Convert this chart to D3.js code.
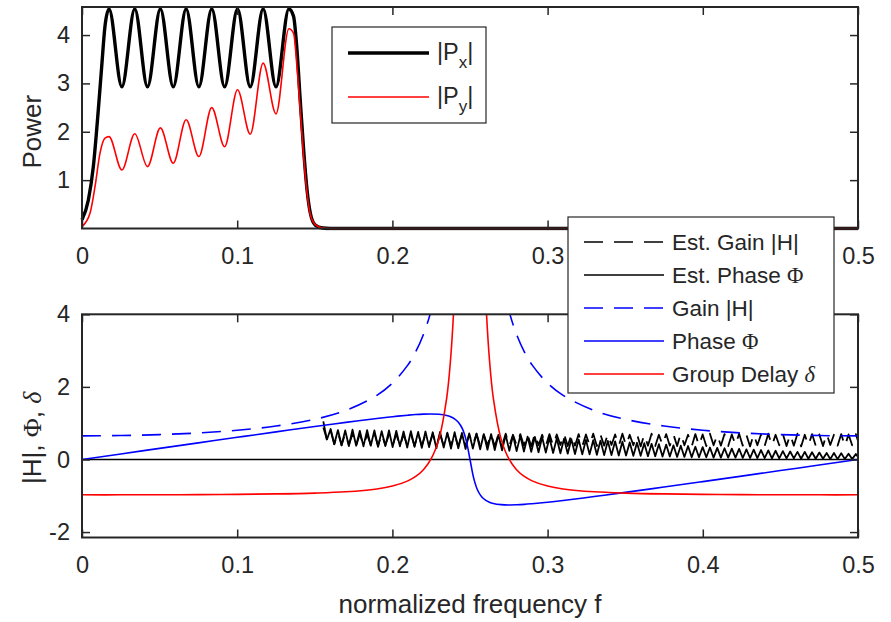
<!DOCTYPE html>
<html><head><meta charset="utf-8">
<script src="https://cdn.jsdelivr.net/npm/d3@7"></script>
<style>
body{margin:0;background:#fff}
text{font-family:"Liberation Sans",Arial,Helvetica,sans-serif;fill:#262626}
.gr{font-family:"Liberation Serif","DejaVu Serif",serif}
</style>
</head><body>
<svg id="c" width="891" height="622"></svg>
<script>
// ---------------- data ----------------
// top panel: power spectra
const pxF = [0, 0.0041, 0.0073, 0.0105, 0.0127, 0.0148, 0.0174, 0.0257, 0.0340, 0.0422, 0.0505, 0.0588, 0.0671, 0.0753, 0.0836, 0.0919, 0.1002, 0.1084, 0.1167, 0.1250, 0.1333, 0.1363, 0.1385, 0.1406, 0.1428, 0.1450, 0.1471, 0.1503, 0.1550, 0.1600, 0.2, 0.3, 0.4, 0.5];
const pxV = [0.18, 0.59, 1.28, 2.45, 3.35, 4.18, 4.54, 2.93, 4.54, 2.93, 4.54, 2.93, 4.54, 2.93, 4.54, 2.93, 4.54, 2.93, 4.54, 2.93, 4.54, 4.39, 3.70, 2.66, 1.63, 0.80, 0.32, 0.07, 0.01, 0, 0, 0, 0, 0];
const pyF = [0, 0.0052, 0.0084, 0.0116, 0.0148, 0.0174, 0.0257, 0.0340, 0.0422, 0.0505, 0.0588, 0.0671, 0.0753, 0.0836, 0.0919, 0.1002, 0.1084, 0.1167, 0.1250, 0.1333, 0.1363, 0.1385, 0.1406, 0.1428, 0.1450, 0.1471, 0.1503, 0.1550, 0.1600, 0.2, 0.3, 0.4, 0.5];
const pyV = [0.04, 0.32, 0.87, 1.56, 1.87, 1.90, 1.21, 1.96, 1.28, 2.08, 1.35, 2.25, 1.49, 2.50, 1.69, 2.87, 1.95, 3.42, 2.37, 4.13, 4.04, 3.35, 2.45, 1.49, 0.73, 0.29, 0.08, 0.01, 0, 0, 0, 0, 0];

// bottom panel: theoretical gain, phase, group delay
const hF = [0, 0.025, 0.05, 0.075, 0.1, 0.125, 0.15, 0.17, 0.19, 0.2, 0.21, 0.215, 0.22, 0.225, 0.23, 0.235, 0.2375, 0.24, 0.2425, 0.245, 0.2475,
            0.25,
            0.2525, 0.255, 0.2575, 0.26, 0.2625, 0.265, 0.27, 0.275, 0.28, 0.285, 0.29, 0.3, 0.31, 0.33, 0.35, 0.375, 0.4, 0.425, 0.45, 0.475, 0.5];
const gainV = [0.651, 0.659, 0.685, 0.731, 0.805, 0.921, 1.107, 1.350, 1.766, 2.101, 2.606, 2.966, 3.445, 4.111, 5.09, 6.68, 7.9, 9.6, 12.1, 16.1, 21.7,
               25.4,
               21.7, 16.1, 12.1, 9.6, 7.9, 6.68, 5.09, 4.111, 3.445, 2.966, 2.606, 2.101, 1.766, 1.350, 1.107, 0.921, 0.805, 0.731, 0.685, 0.659, 0.651];
const phaseV = [0, 0.153, 0.306, 0.458, 0.610, 0.760, 0.907, 1.022, 1.129, 1.178, 1.220, 1.238, 1.249, 1.253, 1.244, 1.212, 1.177, 1.121, 1.026, 0.855, 0.534,
                0,
                -0.534, -0.855, -1.026, -1.121, -1.177, -1.212, -1.244, -1.253, -1.249, -1.238, -1.220, -1.178, -1.129, -1.022, -0.907, -0.760, -0.610, -0.458, -0.306, -0.153, 0];
const delayV = [-0.974, -0.974, -0.972, -0.968, -0.961, -0.949, -0.926, -0.890, -0.812, -0.733, -0.590, -0.468, -0.282, 0.022, 0.568, 1.70, 2.77, 4.57, 7.91, 14.6, 27.4,
                38,
                27.4, 14.6, 7.91, 4.57, 2.77, 1.70, 0.568, 0.022, -0.282, -0.468, -0.590, -0.733, -0.812, -0.890, -0.926, -0.949, -0.961, -0.968, -0.972, -0.974, -0.974];

// bottom panel: estimated gain / phase (sampled from f = 0.1555 in steps of 0.00235)
const estStartF = 0.1555, estStepF = 0.00235;
const estGainV = [1.05,0.52,0.80,0.42,0.74,0.39,0.72,0.40,0.70,0.37,
 0.71,0.38,0.69,0.40,0.72,0.37,0.70,0.39,0.68,0.38,
 0.71,0.36,0.69,0.39,0.70,0.37,0.72,0.38,0.68,0.40,
 0.70,0.37,0.69,0.38,0.71,0.39,0.68,0.36,0.70,0.38,
 0.69,0.40,0.71,0.37,0.68,0.39,0.70,0.36,0.69,0.38,
 0.71,0.37,0.68,0.39,0.70,0.38,0.69,0.36,0.71,0.39,
 0.68,0.37,0.70,0.38,0.69,0.40,0.71,0.37,0.68,0.38,
 0.70,0.36,0.69,0.39,0.71,0.37,0.68,0.38,0.70,0.40,
 0.69,0.37,0.71,0.38,0.68,0.39,0.70,0.36,0.69,0.38,
 0.71,0.37,0.68,0.40,0.70,0.38,0.69,0.37,0.71,0.39,
 0.68,0.36,0.70,0.38,0.69,0.37,0.71,0.39,0.68,0.38,
 0.70,0.37,0.69,0.40,0.71,0.38,0.68,0.36,0.70,0.39,
 0.69,0.37,0.71,0.38,0.68,0.39,0.70,0.37,0.69,0.38,
 0.71,0.36,0.68,0.39,0.70,0.38,0.69,0.37,0.71,0.40,
 0.68,0.38,0.70,0.37,0.69,0.39,0.70,0.38];
const estPhaseV = [0.88,0.55,0.84,0.42,0.81,0.39,0.80,0.37,0.82,0.38,
 0.79,0.36,0.81,0.38,0.80,0.35,0.78,0.37,0.80,0.34,
 0.79,0.36,0.77,0.33,0.78,0.35,0.76,0.32,0.77,0.34,
 0.75,0.31,0.76,0.33,0.74,0.30,0.75,0.31,0.73,0.29,
 0.72,0.30,0.71,0.28,0.70,0.27,0.70,0.26,0.68,0.25,
 0.67,0.24,0.66,0.23,0.65,0.22,0.63,0.21,0.62,0.20,
 0.61,0.19,0.60,0.18,0.58,0.17,0.57,0.16,0.56,0.15,
 0.55,0.14,0.54,0.14,0.53,0.13,0.52,0.12,0.51,0.12,
 0.50,0.11,0.49,0.11,0.47,0.10,0.46,0.10,0.45,0.09,
 0.43,0.09,0.42,0.08,0.41,0.08,0.39,0.07,0.38,0.07,
 0.37,0.06,0.35,0.06,0.34,0.06,0.33,0.05,0.32,0.05,
 0.31,0.05,0.30,0.05,0.29,0.04,0.28,0.04,0.27,0.04,
 0.26,0.04,0.25,0.03,0.24,0.03,0.23,0.03,0.22,0.03,
 0.21,0.02,0.21,0.02,0.20,0.02,0.19,0.02,0.18,0.01,
 0.18,0.01,0.17,0.01,0.16,0.01,0.15,0.01];
const zeroF = [0, 0.5];
const zeroV = [0, 0];

// ticks
const xTicks = [0, 0.1, 0.2, 0.3, 0.4, 0.5];
const xTickLabels = ["0", "0.1", "0.2", "0.3", "0.4", "0.5"];
const topYTicks = [1, 2, 3, 4];
const botYTicks = [-2, 0, 2, 4];

// ---------------- drawing ----------------
const svg = d3.select('#c');
const AX = '#262626';
const FS = 23.5;   // tick labels
const LGS = 22.5;  // legend text
const LFS = 26;    // axis labels
const X0 = 82, X1 = 858;
const x = d3.scaleLinear().domain([0, 0.5]).range([X0, X1]);
const yT = d3.scaleLinear().domain([0, 4.58]).range([228.5, 7]);
const yB = d3.scaleLinear().domain([-2.15, 4]).range([537.5, 314.3]);

// the lower legend box covers part of the upper panel's tick labels
const L2box = {x: 568, y: 217, w: 266, h: 176};

const defs = svg.append('defs');
defs.append('clipPath').attr('id', 'clipT').append('rect')
  .attr('x', X0 - 2).attr('y', yT.range()[1] - 2).attr('width', X1 - X0 + 4).attr('height', yT.range()[0] - yT.range()[1] + 4);
defs.append('clipPath').attr('id', 'clipB').append('rect')
  .attr('x', X0).attr('y', yB.range()[1]).attr('width', X1 - X0).attr('height', yB.range()[0] - yB.range()[1]);

function drawAxes(y, yTicks, hideUnderLegend) {
  const g = svg.append('g');
  const yr = y.range();
  const ax = d3.axisBottom(x).tickValues(xTicks).tickFormat((d, i) => xTickLabels[i]).tickSizeInner(-8).tickSizeOuter(0).tickPadding(19);
  const gb = g.append('g').attr('transform', `translate(0,${yr[0]})`).call(ax);
  const at = d3.axisTop(x).tickValues(xTicks).tickFormat('').tickSizeInner(-8).tickSizeOuter(0);
  const gt = g.append('g').attr('transform', `translate(0,${yr[1]})`).call(at);
  const al = d3.axisLeft(y).tickValues(yTicks).tickFormat(d => String(d)).tickSizeInner(-8).tickSizeOuter(0).tickPadding(12);
  const gl = g.append('g').attr('transform', `translate(${X0},0)`).call(al);
  const ar = d3.axisRight(y).tickValues(yTicks).tickFormat('').tickSizeInner(-8).tickSizeOuter(0);
  const gr = g.append('g').attr('transform', `translate(${X1},0)`).call(ar);
  [gb, gt, gl, gr].forEach(s => {
    s.select('.domain').remove();
    s.selectAll('line').attr('stroke', AX).attr('stroke-width', 1.5);
    s.selectAll('text').attr('font-size', FS).attr('fill', AX).attr('font-family', '"Liberation Sans",Arial,sans-serif');
  });
  if (hideUnderLegend) {
    // labels fully hidden behind the legend box are not drawn
    gb.selectAll('.tick').filter(d => x(d) - 16 > L2box.x && x(d) + 16 < L2box.x + L2box.w).select('text').remove();
  }
  g.append('rect').attr('x', X0).attr('y', yr[1]).attr('width', X1 - X0).attr('height', yr[0] - yr[1])
    .attr('fill', 'none').attr('stroke', AX).attr('stroke-width', 2);
  return g;
}

function series(F, V, y, clip, color, width, dash, curve) {
  const pts = F.map((f, i) => [f, V[i]]);
  const line = d3.line().x(d => x(d[0])).y(d => y(d[1])).curve(curve || d3.curveMonotoneX);
  const p = svg.append('path').datum(pts).attr('d', line)
    .attr('fill', 'none').attr('stroke', color).attr('stroke-width', width)
    .attr('stroke-linejoin', 'round').attr('clip-path', `url(#${clip})`);
  if (dash) p.attr('stroke-dasharray', dash);
  return p;
}

// ---- top panel ----
series(pxF, pxV, yT, 'clipT', '#000', 3.4);
series(pyF, pyV, yT, 'clipT', '#ff0000', 1.6);
drawAxes(yT, topYTicks, true);

// ---- bottom panel ----
const DASH = '19,11';
const estF = estGainV.map((v, i) => estStartF + i * estStepF);
series(zeroF, zeroV, yB, 'clipB', '#000', 1.5, null, d3.curveLinear);
series(estF, estGainV, yB, 'clipB', '#000', 1.8, DASH, d3.curveLinear);
series(estF, estPhaseV, yB, 'clipB', '#000', 1.8, null, d3.curveLinear);
series(hF, gainV, yB, 'clipB', '#0000ff', 1.6, DASH, d3.curveCatmullRom);
series(hF, phaseV, yB, 'clipB', '#0000ff', 1.6, null, d3.curveCatmullRom);
series(hF, delayV, yB, 'clipB', '#ff0000', 1.6, null, d3.curveCatmullRom);
drawAxes(yB, botYTicks, false);

// ---- axis labels ----
svg.append('text').attr('transform', `translate(41,${(yT.range()[0] + yT.range()[1]) / 2 + 14}) rotate(-90)`)
  .attr('text-anchor', 'middle').attr('font-size', LFS).text('Power');
const yl = svg.append('text').attr('transform', `translate(41,${(yB.range()[0] + yB.range()[1]) / 2 + 12}) rotate(-90)`)
  .attr('text-anchor', 'middle').attr('font-size', LFS);
yl.append('tspan').text('|H|, ');
yl.append('tspan').attr('class', 'gr').text('Φ');
yl.append('tspan').text(', ');
yl.append('tspan').attr('class', 'gr').attr('font-style', 'italic').text('δ');
svg.append('text').attr('x', (X0 + X1) / 2).attr('y', 613).attr('text-anchor', 'middle')
  .attr('font-size', LFS).text('normalized frequency f');

// ---- legend top ----
const L1 = svg.append('g');
L1.append('rect').attr('x', 332).attr('y', 27).attr('width', 154).attr('height', 96)
  .attr('fill', '#fff').attr('stroke', AX).attr('stroke-width', 1.2);
const leg1 = [{c: '#000', w: 3.4, sub: 'x', y: 53}, {c: '#ff0000', w: 1.6, sub: 'y', y: 97}];
leg1.forEach(d => {
  L1.append('line').attr('x1', 348).attr('x2', 429).attr('y1', d.y).attr('y2', d.y).attr('stroke', d.c).attr('stroke-width', d.w);
  const t = L1.append('text').attr('x', 437).attr('y', d.y + 7).attr('font-size', FS);
  t.append('tspan').text('|P');
  t.append('tspan').attr('font-size', 17).attr('dy', 8).text(d.sub);
  t.append('tspan').attr('dy', -8).text('|');
});

// ---- legend bottom ----
const L2 = svg.append('g');
L2.append('rect').attr('x', L2box.x).attr('y', L2box.y).attr('width', L2box.w).attr('height', L2box.h)
  .attr('fill', '#fff').attr('stroke', AX).attr('stroke-width', 1.2);
const leg2 = [
  {c: '#000', dash: DASH, parts: [['Est. Gain |H|', '']]},
  {c: '#000', dash: null, parts: [['Est. Phase ', ''], ['Φ', 'gr']]},
  {c: '#0000ff', dash: DASH, parts: [['Gain |H|', '']]},
  {c: '#0000ff', dash: null, parts: [['Phase ', ''], ['Φ', 'gr']]},
  {c: '#ff0000', dash: null, parts: [['Group Delay ', ''], ['δ', 'gri']]}
];
leg2.forEach((d, i) => {
  const yy = 242 + i * 33;
  const ln = L2.append('line').attr('x1', 584).attr('x2', 664).attr('y1', yy).attr('y2', yy)
    .attr('stroke', d.c).attr('stroke-width', 1.6);
  if (d.dash) ln.attr('stroke-dasharray', d.dash);
  const t = L2.append('text').attr('x', 672).attr('y', yy + 8).attr('font-size', LGS);
  d.parts.forEach(p => {
    const s = t.append('tspan').text(p[0]);
    if (p[1] === 'gr') s.attr('class', 'gr');
    if (p[1] === 'gri') s.attr('class', 'gr').attr('font-style', 'italic');
  });
});
</script>
</body></html>
